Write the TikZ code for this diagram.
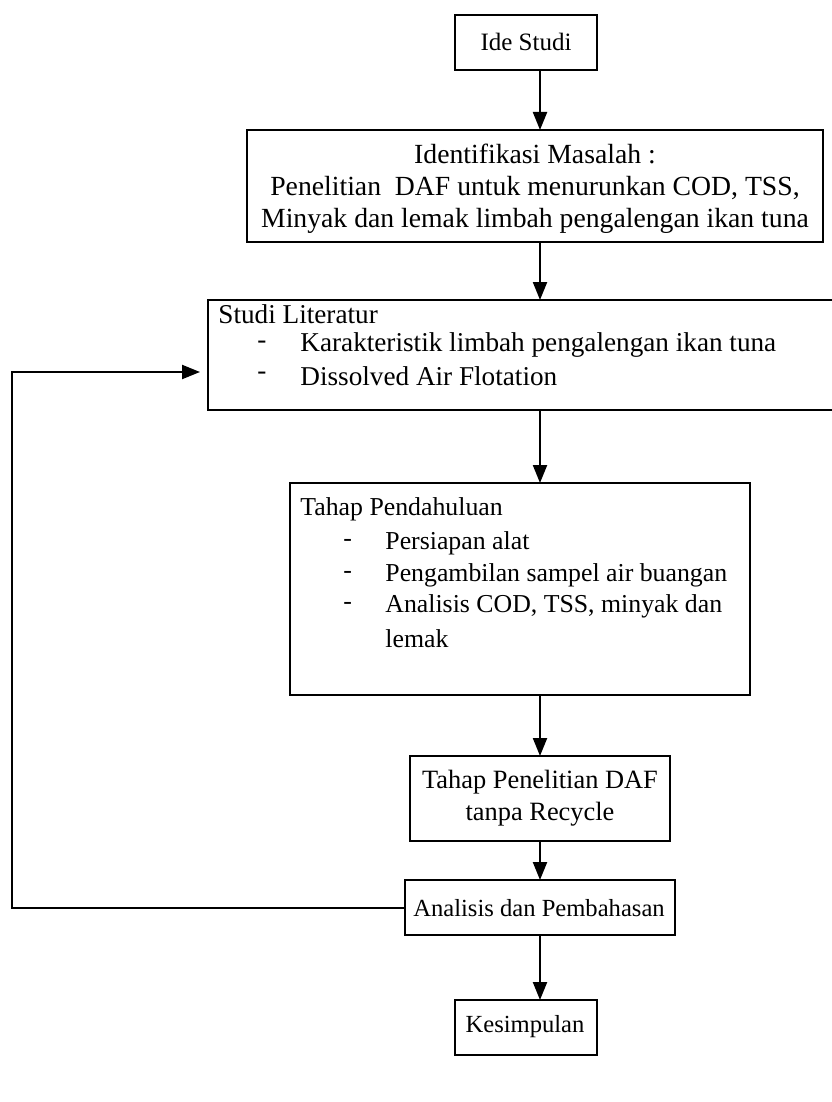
\documentclass[tikz,border=0pt]{standalone}
\usepackage{fontspec}
\setmainfont{Liberation Serif}
\usetikzlibrary{arrows.meta}
\begin{document}
\begin{tikzpicture}[x=0.5pt,y=-0.5pt,
  box/.style={draw,line width=1.1pt,inner sep=0pt},
  lbl/.style={inner sep=0pt},
  fs/.style={font=\fontsize{#1}{16}\selectfont},
  arr/.style={line width=1.1pt,-{Triangle[length=9pt,width=7pt]}}]
\useasboundingbox (0,0) rectangle (831,1102);
% Ide Studi
\draw[box] (455,15) rectangle (597,70);
\node[lbl,fs=12.5] (ide) at (526,42) {Ide Studi};
\coordinate (ideB) at (540,70);
\coordinate (idmT) at (540,130);
% Identifikasi Masalah
\draw[box] (247,130) rectangle (823,242);
\node[lbl,fs=13.85,align=center] (idm) at (535,189) {Identifikasi Masalah :\\[0pt]Penelitian\ \ DAF untuk menurunkan COD, TSS,\\Minyak dan lemak limbah pengalengan ikan tuna};
\coordinate (idmB) at (540,242);
\coordinate (slT) at (540,300);
% Studi Literatur (cut at right edge)
\draw[box] (840,300) -- (208,300) -- (208,410) -- (840,410);
\node[lbl,fs=13.6,anchor=west] (sl0) at (218,314) {Studi Literatur};
\node[lbl,fs=13.6,anchor=west] (sl1) at (257,345) {-};
\node[lbl,fs=13.6,anchor=west] (sl1t) at (300,345) {Karakteristik limbah pengalengan ikan tuna};
\node[lbl,fs=13.6,anchor=west] (sl2) at (257,376) {-};
\node[lbl,fs=13.6,anchor=west] (sl2t) at (300,376) {Dissolved Air Flotation};
\coordinate (slL) at (200,372);
\coordinate (slB) at (540,410);
\coordinate (tpT) at (540,483);
% Tahap Pendahuluan
\draw[box] (290,483) rectangle (750,695);
\node[lbl,fs=12.9,anchor=west] (tp0) at (300,509) {Tahap Pendahuluan};
\node[lbl,fs=12.9,anchor=west] (tp1) at (343,543) {-};
\node[lbl,fs=12.9,anchor=west] (tp1t) at (385,543) {Persiapan alat};
\node[lbl,fs=12.9,anchor=west] (tp2) at (343,575) {-};
\node[lbl,fs=12.9,anchor=west] (tp2t) at (385,575) {Pengambilan sampel air buangan};
\node[lbl,fs=12.9,anchor=west] (tp3) at (343,606) {-};
\node[lbl,fs=12.9,anchor=west] (tp3t) at (385,606) {Analisis COD, TSS, minyak dan};
\node[lbl,fs=12.9,anchor=west] (tp4t) at (385,639) {lemak};
\coordinate (tpB) at (540,695);
\coordinate (pnT) at (540,756);
% Tahap Penelitian
\draw[box] (410,756) rectangle (670,841);
\node[lbl,fs=13.2,align=center] (pn) at (540,798) {Tahap Penelitian DAF\\tanpa Recycle};
\coordinate (pnB) at (540,841);
\coordinate (anT) at (540,880);
% Analisis
\draw[box] (405,880) rectangle (675,935);
\node[lbl,fs=12.3] (an) at (539,908) {Analisis dan Pembahasan};
\coordinate (anL) at (405,908);
\coordinate (anB) at (540,935);
\coordinate (ksT) at (540,1000);
% Kesimpulan
\draw[box] (455,1000) rectangle (597,1055);
\node[lbl,fs=12.3] (ks) at (525,1027) {Kesimpulan};
% arrows
\draw[arr] (ideB) -- (idmT);
\draw[arr] (idmB) -- (slT);
\draw[arr] (slB) -- (tpT);
\draw[arr] (tpB) -- (pnT);
\draw[arr] (pnB) -- (anT);
\draw[arr] (anB) -- (ksT);
\coordinate (fb1) at (12,908);
\coordinate (fb2) at (12,372);
\draw[arr] (anL) -- (fb1) -- (fb2) -- (slL);
\end{tikzpicture}
\end{document}
